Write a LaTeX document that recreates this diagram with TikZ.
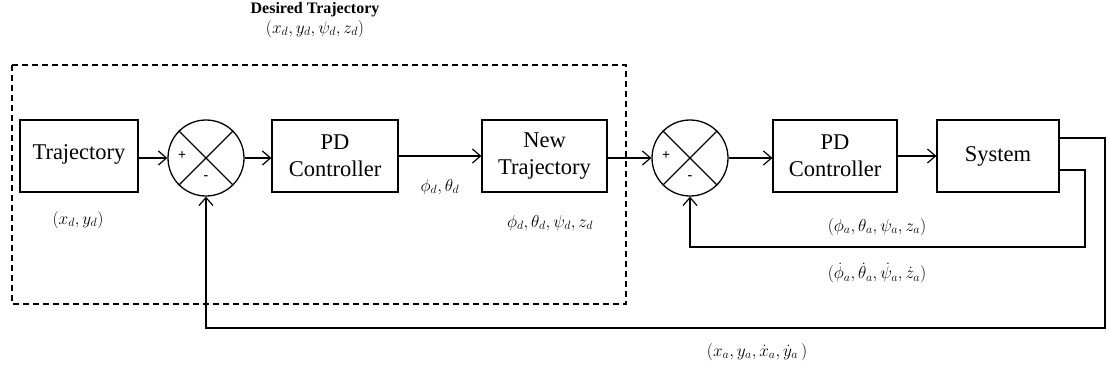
\documentclass[tikz,border=0pt]{standalone}
\usepackage{fontspec}
\setmainfont{Liberation Serif}
\usetikzlibrary{arrows.meta,calc}
\begin{document}
\begin{tikzpicture}[x=1pt,y=-1pt,
  line width=1.3pt,
  blk/.style={draw,minimum height=72pt,align=center,inner sep=2pt,
    font=\fontsize{22.5}{27}\selectfont},
  summer/.style={draw,circle,minimum size=76pt,inner sep=0pt},
  sig/.style={-{Straight Barb[length=8pt,width=14pt,line width=1.2pt]}},
  lbl/.style={font=\fontsize{18}{21}\selectfont,inner sep=0pt},
  sgn/.style={font=\fontsize{14}{16}\selectfont\bfseries,inner sep=0pt},
  frame/.style={line width=1.2pt,dash pattern=on 6pt off 4pt}]
\useasboundingbox (0,0) rectangle (1107,369);

% outer dashed group: desired trajectory generator
\draw[frame] (12,65) rectangle (626,304);
\node[font=\fontsize{16}{19}\selectfont\bfseries,inner sep=0pt] (dtitle) at (315,10) {Desired Trajectory};
\node[lbl] (dvec) at (315,29) {$(x_d, y_d, \psi_d, z_d)$};

% blocks
\node[blk,minimum width=118pt] (traj) at (79,156) {\raisebox{7pt}{Trajectory}};
\node[summer] (s1) at (206,158) {};
\node[blk,minimum width=126pt] (pd1) at (335,156) {PD\\Controller};
\node[blk,minimum width=125pt] (newt) at (544.5,156) {New\\Trajectory};
\node[summer] (s2) at (690,158) {};
\node[blk,minimum width=124pt] (pd2) at (835,156) {PD\\Controller};
\node[blk,minimum width=122pt] (sys) at (998,156) {System};

% summing junction crosses and signs
\foreach \s in {s1,s2}{
  \draw (\s.45) -- (\s.225);
  \draw (\s.135) -- (\s.315);
  \node[sgn] (\s plus) at ($(\s.center)+(-24,-2)$) {+};
  \node[sgn] (\s minus) at ($(\s.center)+(0,20)$) {-};
}

% forward path
\draw[sig] (traj.east |- s1.west) -- (s1.west);
\draw[sig] (s1.east) -- (pd1.west |- s1.east);
\draw[sig] (pd1.east) -- (newt.west);
\draw[sig] (newt.east |- s2.west) -- (s2.west);
\draw[sig] (s2.east) -- (pd2.west |- s2.east);
\draw[sig] (pd2.east) -- (sys.west);

% feedback paths
\coordinate (o1) at (1105,138);
\coordinate (o2) at (1105,328);
\coordinate (o3) at (206,328);
\draw[sig] (sys.east |- o1) -- (o1) -- (o2) -- (o3) -- (s1.south);
\coordinate (i1) at (1085,170);
\coordinate (i2) at (1085,247);
\coordinate (i3) at (690,247);
\draw[sig] (sys.east |- i1) -- (i1) -- (i2) -- (i3) -- (s2.south);

% signal labels
\node[lbl] (lxy) at (78,220) {$(x_d,y_d)$};
\node[lbl] (lpt) at (440,187) {$\phi_d, \theta_d$};
\node[lbl] (lnew) at (550,223) {$\phi_d, \theta_d, \psi_d, z_d$};
\node[lbl] (latt) at (877,227) {$(\phi_a, \theta_a, \psi_a, z_a)$};
\node[lbl] (lrate) at (877,273) {$(\dot\phi_a, \dot\theta_a, \dot\psi_a, \dot z_a)$};
\node[lbl] (lpos) at (757,352) {$(x_a, y_a, \dot x_a, \dot y_a\,)$};
\end{tikzpicture}
\end{document}
